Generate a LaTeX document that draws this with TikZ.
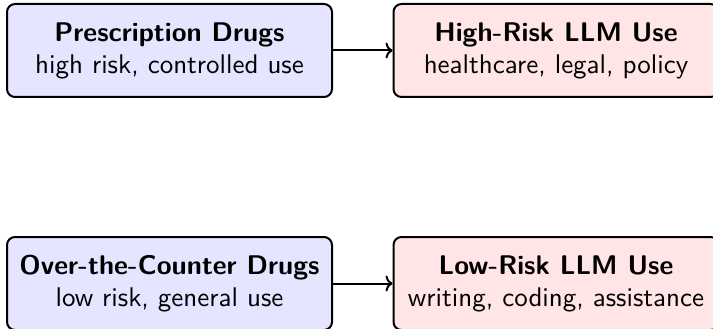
\documentclass[tikz,border=0pt]{standalone}
\usepackage{fontspec}
\usetikzlibrary{arrows.meta}
\setsansfont{lmsans10-regular.otf}[BoldFont=lmsans10-bold.otf]
\begin{document}
\begin{tikzpicture}[x=1pt,y=-1pt,
  box/.style={draw, line width=2pt, rounded corners=8pt, rectangle,
    minimum width=325pt, minimum height=93pt, align=center,
    font=\sffamily\fontsize{27}{32}\selectfont, inner sep=0pt},
  drug/.style={box, fill=blue!10},
  llm/.style={box, fill=red!10},
  link/.style={draw, line width=2pt, -{To[length=7pt,width=16pt]}}]
\useasboundingbox (0,0) rectangle (713,329);
\node[drug] (rx)  at (169.5,50.5) {\textbf{Prescription Drugs}\\high risk, controlled use};
\node[llm]  (hi)  at (556,50.5)   {\textbf{High-Risk LLM Use}\\healthcare, legal, policy};
\node[drug] (otc) at (169.5,283.5) {\textbf{Over-the-Counter Drugs}\\low risk, general use};
\node[llm]  (lo)  at (556,283.5)  {\textbf{Low-Risk LLM Use}\\writing, coding, assistance};
\draw[link] (rx) -- (hi);
\draw[link] (otc) -- (lo);
\end{tikzpicture}
\end{document}
